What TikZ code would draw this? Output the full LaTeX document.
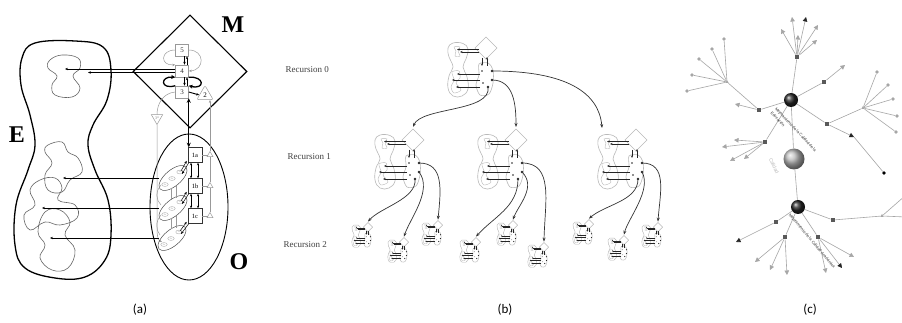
\documentclass[tikz,border=0pt]{standalone}
\usepackage{fontspec}
\setmainfont{Liberation Serif}
\newfontfamily\capfont{Carlito}
\newfontfamily\smallsans{Liberation Sans}
\usetikzlibrary{shapes.geometric,arrows.meta,calc}
\tikzset{
  bigblob/.style={line width=1.3pt, draw=black},
  gblob/.style={line width=.6pt, draw=black!60},
  bigl/.style={font=\fontsize{24}{24}\selectfont\bfseries, inner sep=0pt},
  gbox/.style={draw=gray!80, line width=.5pt, minimum width=13pt, minimum height=12pt, inner sep=0pt, font=\fontsize{7}{7}\selectfont, text=black!80, fill=white},
  obox/.style={draw=black!80, line width=.5pt, minimum width=14pt, minimum height=15pt, inner sep=0pt, font=\fontsize{6.5}{6.5}\selectfont, fill=white},
  gtritwo/.style={regular polygon, regular polygon sides=3, draw=gray!80, line width=.5pt, rounded corners=2pt, minimum size=19pt, inner sep=0pt, font=\fontsize{7}{7}\selectfont},
  gtristar/.style={regular polygon, regular polygon sides=3, shape border rotate=180, draw=gray!80, line width=.5pt, minimum size=13pt, inner sep=0pt, font=\fontsize{4}{4}\selectfont, text=gray},
  stri/.style={regular polygon, regular polygon sides=3, draw=gray!80, line width=.5pt, minimum size=7pt, inner sep=0pt, fill=white},
  sell/.style={draw=black!70, line width=.5pt, ellipse, rotate=40, minimum width=34pt, minimum height=16pt, inner sep=0pt},
  tell/.style={draw=gray!70, line width=.35pt, ellipse, minimum width=6.5pt, minimum height=3.8pt, inner sep=0pt, font=\fontsize{2.2}{2.2}\selectfont, text=gray},
  gl/.style={draw=gray!80, line width=.5pt},
  garr/.style={gl, -{Stealth[length=3pt,width=2.4pt]}},
  sarr/.style={-{Stealth[length=3pt,width=2.4pt]}, line width=.5pt},
  darr/.style={{Stealth[length=2.5pt,width=2pt]}-{Stealth[length=2.5pt,width=2pt]}, line width=.5pt},
  tarr/.style={-{Stealth[length=4pt,width=4pt]}, line width=1.3pt},
  mg/.style={draw=gray!55, line width=.6pt},
  mgt/.style={draw=gray!55, line width=.4pt},
  ma/.style={-{Stealth[length=2.5pt,width=2pt]}, line width=.6pt, draw=black!85},
  carr/.style={-{Stealth[length=4pt,width=3pt]}, line width=.7pt, draw=black!80},
  reclab/.style={font=\fontsize{9}{9}\selectfont, text=black!75, anchor=west},
  panlab/.style={font=\capfont\fontsize{13}{13}\selectfont},
  ballk/.style={circle, inner sep=0pt, minimum size=14pt, shading=ball, ball color=black!85},
  ballg/.style={circle, inner sep=0pt, minimum size=21pt, shading=ball, ball color=gray!55},
  sq/.style={rectangle, fill=black!65, inner sep=0pt, minimum size=4.5pt},
  hub/.style={regular polygon, regular polygon sides=3, fill=gray!70, inner sep=0pt, minimum size=4pt},
  gdot/.style={circle, fill=gray!70, inner sep=0pt, minimum size=3.6pt},
  kdot/.style={circle, fill=black, inner sep=0pt, minimum size=3.6pt},
  ed/.style={draw=gray!70, line width=.6pt},
  tl/.style={ed, -{Triangle[length=4.5pt,width=4.5pt]}},
  tlk/.style={ed, -{Triangle[length=4.5pt,width=4.5pt,color=black!85]}},
  smallmini/.style={scale=.42, ma/.style={-{Stealth[length=1.4pt,width=1.3pt]}, line width=.45pt, draw=black!85}, mg/.style={draw=gray!55, line width=.45pt}, mgt/.style={draw=gray!55, line width=.3pt}},
  mini/.pic={
    \draw[mg] plot[smooth cycle, tension=.7] coordinates {(5,0) (15,0.5) (20,6) (18,16) (15,24) (19,34) (20,46) (14,53) (5,53) (0,45) (1,33) (5,24) (1,14) (0,5)};
    \draw[mgt] plot[smooth cycle] coordinates {(6,4) (12,4) (10,8) (12,13) (7,13) (8,8)};
    \draw[mgt] plot[smooth cycle] coordinates {(4,29) (11,28) (12,35) (8,40) (13,47) (6,50) (3,44) (6,37)};
    \draw[mg] (38,-6) -- (49,5) -- (38,16) -- (27,5) -- cycle;
    \draw[mg] plot[smooth cycle] coordinates {(31,21) (40,20) (45,27) (45,40) (41,51) (32,52) (28,42) (31,32)};
    \draw[ma] (31,6.5) -- (9,6.5);
    \draw[ma] (31,9) -- (12,9);
    \draw[ma] (34,15) -- (34,23);
    \draw[ma] (39,23) -- (39,14);
    \draw[ma] (32,31) -- (9,31);
    \draw[ma] (32,37) -- (4,37);
    \draw[ma] (32,44) -- (8,44);
    \fill[black!85] (44,28) circle (1.4) (44,37) circle (1.4) (40,44) circle (1.4) (34,28) circle (0.8) (35,40) circle (0.8);
    \coordinate (-d1) at (44,28);
    \coordinate (-d2) at (44,37);
    \coordinate (-d3) at (40,44);
    \coordinate (-top) at (38,-8);
    \coordinate (-lt) at (4,-7);
  }
}
\begin{document}
\begin{tikzpicture}[x=1pt,y=-1pt]
\fill[white] (0,0) rectangle (902,323);
\useasboundingbox (0,0) rectangle (902,323);

% ================= panel (a) =================
\draw[bigblob] plot[smooth cycle, tension=.65] coordinates {(35,43) (75,41) (103,47) (111,70) (107,100) (93,125) (88,145) (95,170) (108,200) (111,235) (105,260) (85,277) (55,278) (25,268) (15,245) (16,205) (28,170) (35,145) (30,115) (21,85) (22,58)};
\draw[gblob] plot[smooth cycle, tension=.7] coordinates {(50,60) (62,55) (78,58) (80,68) (73,76) (80,88) (72,97) (55,95) (52,85) (57,76) (48,68)};
\draw[gblob] plot[smooth cycle, tension=.7] coordinates {(48,145) (62,142) (68,152) (78,158) (82,172) (70,180) (62,192) (48,190) (45,175) (52,163) (45,152)};
\draw[gblob] plot[smooth cycle, tension=.7] coordinates {(40,180) (55,178) (62,188) (58,200) (75,205) (77,218) (60,225) (45,222) (30,230) (24,215) (35,205) (30,190)};
\draw[gblob] plot[smooth cycle, tension=.7] coordinates {(45,212) (60,210) (70,222) (65,235) (75,250) (68,268) (52,270) (40,258) (45,245) (38,232)};
\node[bigl] (lE) at (17,135) {E};

\node[draw, diamond, line width=1.1pt, minimum width=114pt, minimum height=113pt, inner sep=0pt] (Md) at (190,71.5) {};
\node[bigl] (lM) at (233,25) {M};
\node[draw, ellipse, line width=.9pt, minimum width=78pt, minimum height=146pt, inner sep=0pt] (Oe) at (189,207) {};
\node[bigl] (lO) at (239,262) {O};

\node[gbox] (b5) at (182,50) {5};
\node[gbox] (b4) at (182,71) {4};
\node[gbox] (b3) at (182,92) {3};
\node[gtritwo] (b2) at (205,95) {2};
\node[gtristar] (s3) at (157,118) {3*};

\node[obox] (b1a) at (195,155) {1a};
\node[obox] (b1b) at (195,186) {1b};
\node[obox] (b1c) at (195,216) {1c};
\node[stri] (t1) at (210,155) {};
\node[stri] (t2) at (210,186) {};
\node[stri] (t3) at (210,216) {};

% links inside M
\draw[sarr] ([xshift=2.5pt]b5.south) -- ([xshift=2.5pt]b4.north);
\draw[sarr] ([xshift=5pt]b4.north) -- ([xshift=5pt]b5.south);
\draw[sarr] ([xshift=2.5pt]b4.south) -- ([xshift=2.5pt]b3.north);
\draw[sarr] ([xshift=5pt]b3.north) -- ([xshift=5pt]b4.south);
\draw[garr] (b5.west) .. controls (160,50) and (160,66) .. (b4.north west);
\draw[garr] (b5.east) .. controls (205,50) and (205,70) .. (b4.east);
\draw[tarr] (b3.north west) .. controls (160,90) and (160,76) .. (b4.south west);
\draw[tarr] (b4.south east) .. controls (205,76) and (205,90) .. (b3.north east);
\draw[sarr, line width=.9pt] (b3.east) -- (b2.west);
\draw[{Stealth[length=4.5pt,width=4pt]}-{Stealth[length=4.5pt,width=4pt]}, line width=1.2pt] (b3.south east) -- (b3.south east |- b1a.north);

% 3* and right feedback line
\draw[gl] (b3.west) .. controls (163,93) and (157,104) .. (s3.north);
\coordinate (e3l) at (162,242);
\draw[garr] (s3.south) -- (157,228) .. controls (157,236) and (158,240) .. (e3l);
\draw[gl] (b1a) -- (t1);
\draw[gl] (b1b) -- (t2);
\draw[gl] (b1c) -- (t3);
\draw[gl] (t3) -- (t2);
\draw[gl] (t2) -- (t1);
\draw[garr] (t1) -- (t1 |- b2.south);
\draw[darr] ([xshift=-4pt]b1a.south) -- ([xshift=-4pt]b1b.north);
\draw[darr] ([xshift=3pt]b1a.south) -- ([xshift=3pt]b1b.north);
\draw[darr] ([xshift=-4pt]b1b.south) -- ([xshift=-4pt]b1c.north);
\draw[darr] ([xshift=3pt]b1b.south) -- ([xshift=3pt]b1c.north);

% sub-ellipses
\node[sell] (e1) at (173,178) {};
\node[sell] (e2) at (173,208) {};
\node[sell] (e3) at (172,238) {};
\foreach \e in {e1,e2,e3}{
  \node[tell] (\e t1) at ($(\e)+(7,-6)$) {2c};
  \node[tell] (\e t2) at ($(\e)+(-1,0.5)$) {2c};
  \node[tell] (\e t3) at ($(\e)+(-8,6.5)$) {2c};
}
\draw[sarr] ($(b1a.south west)+(1,0)$) -- ($(e1)+(9,-4)$);
\draw[sarr] ($(e1)+(8,-7)$) -- ($(b1a.south west)+(-1,-2)$);
\draw[sarr] ($(b1b.south west)+(1,0)$) -- ($(e2)+(9,-4)$);
\draw[sarr] ($(e2)+(8,-7)$) -- ($(b1b.south west)+(-1,-2)$);
\draw[sarr] ($(b1c.south west)+(1,0)$) -- ($(e3)+(9,-4)$);
\draw[sarr] ($(e3)+(8,-7)$) -- ($(b1c.south west)+(-1,-2)$);
\draw[gl] ($(e1)+(-12,7)$) .. controls (155,192) and (156,200) .. ($(e2)+(-12,-3)$);
\draw[gl] ($(e2)+(-12,7)$) .. controls (155,222) and (156,230) .. ($(e3)+(-12,-3)$);
\draw[gl] ($(e1)+(-2,10)$) -- ($(e2)+(-2,-9)$);
\draw[gl] ($(e1)+(3,8)$) -- ($(e2)+(3,-10)$);
\draw[gl] ($(e2)+(-2,10)$) -- ($(e3)+(-1,-9)$);
\draw[gl] ($(e2)+(3,8)$) -- ($(e3)+(4,-10)$);

% arrows to E
\coordinate (et1) at (65,69);
\coordinate (et2) at (88,72.5);
\coordinate (ea1) at (63,178);
\coordinate (ea2) at (42,208);
\coordinate (ea3) at (50,238);
\draw[sarr] ($(b4.west)+(0,-2)$) -- (et1);
\draw[sarr] ($(b4.west)+(0,1.5)$) -- (et2);
\draw[sarr] ($(e1)+(-14,0)$) -- (ea1);
\draw[sarr] ($(e2)+(-14,0)$) -- (ea2);
\draw[sarr] ($(e3)+(-13,0)$) -- (ea3);

\node[panlab] (la) at (140,310) {(a)};

% ================= panel (b) =================
\node[reclab] (rl0) at (282,70) {Recursion 0};
\node[reclab] (rl1) at (284,157) {Recursion 1};
\node[reclab] (rl2) at (280,245) {Recursion 2};

\pic (r0) at (448,43) {mini};
\pic (r1a) at (375,135) {mini};
\pic (r1b) at (478,135) {mini};
\pic (r1c) at (598,135) {mini};
\pic[smallmini] (r2a) at (352,225) {mini};
\pic[smallmini] (r2b) at (388,240) {mini};
\pic[smallmini] (r2c) at (422,223) {mini};
\pic[smallmini] (r2d) at (460,240) {mini};
\pic[smallmini] (r2e) at (497,223) {mini};
\pic[smallmini] (r2f) at (528,245) {mini};
\pic[smallmini] (r2g) at (573,222) {mini};
\pic[smallmini] (r2h) at (608,238) {mini};
\pic[smallmini] (r2i) at (642,225) {mini};

\draw[carr] (r0-d3) .. controls +(4,25) and +(8,-20) .. (r1a-top);
\draw[carr] (r0-d2) .. controls +(22,0) and +(0,-22) .. (r1b-top);
\draw[carr] (r0-d1) .. controls +(75,0) and +(-3,-35) .. (r1c-lt);

\draw[carr] (r1a-d3) .. controls +(2,20) and +(12,-14) .. (r2a-top);
\draw[carr] (r1a-d2) .. controls +(14,18) and +(6,-18) .. (r2b-top);
\draw[carr] (r1a-d1) .. controls +(25,0) and +(3,-30) .. (r2c-top);
\draw[carr] (r1b-d3) .. controls +(0,28) and +(18,-20) .. (r2d-top);
\draw[carr] (r1b-d2) .. controls +(15,15) and +(5,-14) .. (r2e-top);
\draw[carr] (r1b-d1) .. controls +(32,0) and +(1,-40) .. (r2f-top);
\draw[carr] (r1c-d3) .. controls +(0,22) and +(16,-14) .. (r2g-top);
\draw[carr] (r1c-d2) .. controls +(10,18) and +(4,-16) .. (r2h-top);
\draw[carr] (r1c-d1) .. controls +(26,0) and +(2,-28) .. (r2i-top);

\node[panlab] (lb) at (505,310) {(b)};

% ================= panel (c) =================
\node[ballk] (S1) at (791,100) {};
\node[ballg] (S2) at (794,159) {};
\node[ballk] (S3) at (798,207) {};
\draw[ed] (S1) -- (S2);
\draw[ed] (S2) -- (S3);

\node[sq] (q1) at (797,57) {};
\node[sq] (q2) at (759,110) {};
\node[sq] (q3) at (824,82) {};
\node[sq] (q4) at (827,124) {};
\node[sq] (q5) at (765,142) {};
\node[sq] (q6) at (776,222) {};
\node[sq] (q7) at (785,237) {};
\node[sq] (q8) at (818,237) {};
\node[sq] (q9) at (833,220) {};
\node[hub] (h1) at (727,82) {};
\node[hub] (h2) at (863,108) {};
\node[hub] (h3) at (882,216) {};
\foreach \q in {q1,q2,q3,q4,q5} \draw[ed] (S1) -- (\q);
\foreach \q in {q6,q7,q8,q9} \draw[ed] (S3) -- (\q);
\draw[ed] (q2) -- (h1);
\draw[ed] (q4) -- (h2);
\draw[ed] (q9) -- (h3);

\coordinate (c11) at (792,17);
\coordinate (c12) at (806,17);
\coordinate (c13) at (818,25);
\coordinate (c14) at (817,40);
\coordinate (c15) at (781,29);
\coordinate (c16) at (798,35);
\foreach \t in {c11,c13,c14,c15,c16} \draw[tl] (q1) -- (\t);
\draw[tlk] (q1) -- (c12);

\node[gdot] (g11) at (724,39) {};
\node[gdot] (g12) at (712,49) {};
\node[gdot] (g13) at (699,59) {};
\node[gdot] (g14) at (692,75) {};
\node[gdot] (g15) at (687,91) {};
\foreach \t in {g11,g12,g13,g14,g15} \draw[ed] (h1) -- (\t);
\coordinate (c21) at (735,104);
\draw[tl] (q2) -- (c21);

\coordinate (c31) at (845,65);
\draw[tl] (q3) -- (c31);

\node[gdot] (g21) at (877,72) {};
\node[gdot] (g22) at (888,85) {};
\node[gdot] (g23) at (893,99) {};
\node[gdot] (g24) at (897,116) {};
\node[gdot] (g25) at (896,132) {};
\foreach \t in {g21,g22,g23,g24,g25} \draw[ed] (h2) -- (\t);
\coordinate (c41) at (854,137);
\node[kdot] (k1) at (884,173) {};
\draw[tlk] (q4) -- (c41);
\draw[ed] (c41) -- (k1);

\coordinate (c51) at (722,147);
\coordinate (c52) at (734,140);
\coordinate (c53) at (730,161);
\coordinate (c54) at (744,159);
\foreach \t in {c51,c52,c53,c54} \draw[tl] (q5) -- (\t);

\coordinate (c61) at (736,242);
\draw[tlk] (q6) -- (c61);
\coordinate (c71) at (755,262);
\coordinate (c72) at (770,270);
\coordinate (c73) at (787,275);
\foreach \t in {c71,c72,c73} \draw[tl] (q7) -- (\t);
\coordinate (c81) at (826,273);
\coordinate (c82) at (842,268);
\coordinate (c83) at (854,257);
\draw[tl] (q8) -- (c81);
\draw[tlk] (q8) -- (c82);
\draw[tl] (q8) -- (c83);
\coordinate (c91) at (906,217);
\coordinate (c92) at (906,195);
\draw[ed] (h3) -- (c91);
\draw[ed] (h3) -- (c92);

\node[rotate=-47, anchor=north west, font=\smallsans\fontsize{4}{6}\selectfont, align=left, text=black!80, inner sep=0pt] (lab1) at (777,107) {Mejoramiento de la Calidad de la\\Educación};
\node[rotate=-50, anchor=north west, font=\smallsans\fontsize{4}{4.5}\selectfont, text=black!80, inner sep=0pt] (lab2) at (791,213) {Mejoramiento de la Calidad Académica};
\node[rotate=-65, font=\smallsans\fontsize{5}{5}\selectfont, text=gray!55, inner sep=0pt] (lab3) at (774,166) {Calidad};

\node[panlab] (lc) at (810,310) {(c)};
\end{tikzpicture}
\end{document}
